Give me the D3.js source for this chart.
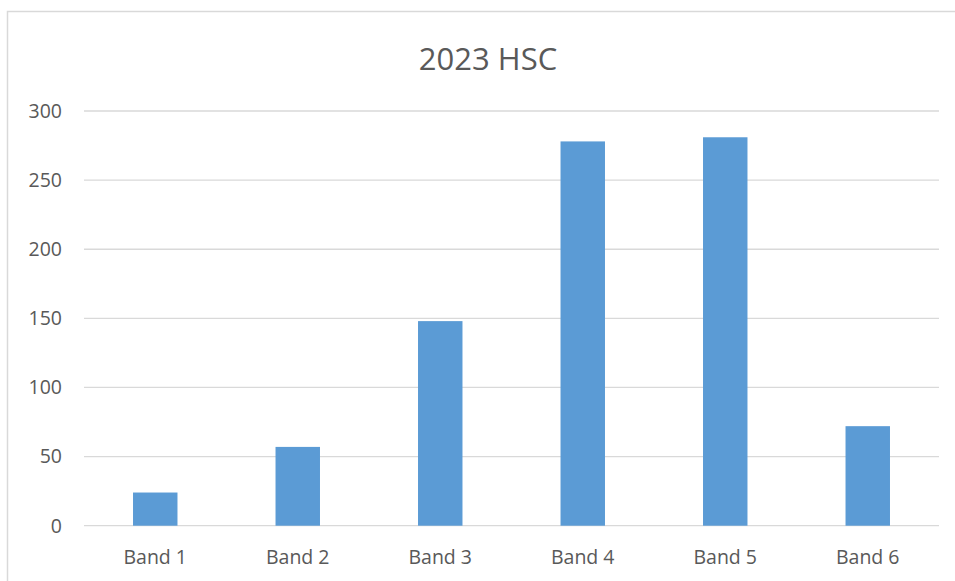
<!DOCTYPE html>
<html>
  <head>
    <meta charset="utf-8">
    <script src="https://d3js.org/d3.v7.min.js"></script>
    <style>
      body { margin: 0; background: #fff; }
      text { font-family: "Open Sans", "Noto Sans", sans-serif; fill: #595959; }
    </style>
  </head>
  <body>
  <script>
    var categories = ['Band 1', 'Band 2', 'Band 3', 'Band 4', 'Band 5', 'Band 6'];
    var values = [24, 57, 148, 278, 281, 72];
    var yTicks = [0, 50, 100, 150, 200, 250, 300];
    var title = '2023 HSC';

    var width = 955, height = 581;
    var plotLeft = 84, plotRight = 939, plotTop = 111, plotBottom = 525.7;

    var svg = d3.select('body').append('svg')
      .attr('width', width)
      .attr('height', height);

    // chart frame
    svg.append('rect')
      .attr('x', 7.5).attr('y', 11.5)
      .attr('width', 1000).attr('height', 1000)
      .attr('fill', 'none')
      .attr('stroke', '#d9d9d9')
      .attr('stroke-width', 1.5);

    var x = d3.scaleBand().domain(categories).range([plotLeft, plotRight]).paddingInner(0.688).paddingOuter(0.344);
    var y = d3.scaleLinear().domain([0, 300]).range([plotBottom, plotTop]);

    svg.append('g').selectAll('line')
      .data(yTicks)
      .enter().append('line')
      .attr('x1', plotLeft).attr('x2', plotRight)
      .attr('y1', function(d) { return y(d); })
      .attr('y2', function(d) { return y(d); })
      .attr('stroke', '#d9d9d9')
      .attr('stroke-width', 1.3);

    svg.append('g').selectAll('text')
      .data(yTicks)
      .enter().append('text')
      .attr('x', 62)
      .attr('y', function(d) { return y(d); })
      .attr('dy', '0.35em')
      .attr('text-anchor', 'end')
      .style('font-size', '19.5px')
      .text(function(d) { return d; });

    svg.append('g').selectAll('rect')
      .data(values)
      .enter().append('rect')
      .attr('x', function(d, i) { return x(categories[i]); })
      .attr('width', x.bandwidth())
      .attr('y', function(d) { return y(d); })
      .attr('height', function(d) { return y(0) - y(d); })
      .attr('fill', '#5b9bd5');

    svg.append('g').selectAll('text')
      .data(categories)
      .enter().append('text')
      .attr('x', function(d) { return x(d) + x.bandwidth() / 2; })
      .attr('y', 564)
      .attr('text-anchor', 'middle')
      .style('font-size', '19.5px')
      .text(function(d) { return d; });

    svg.append('text')
      .attr('x', 488)
      .attr('y', 70)
      .attr('text-anchor', 'middle')
      .style('font-size', '31px')
      .text(title);
  </script>
  </body>
</html>
